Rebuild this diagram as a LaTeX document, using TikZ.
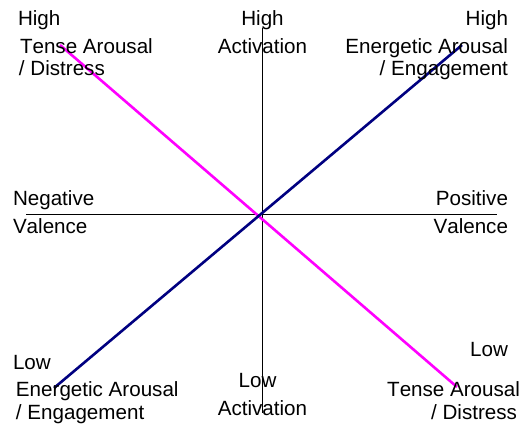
\documentclass[tikz,border=0pt]{standalone}
\usepackage{fontspec}
\setmainfont[Kerning=Off]{Liberation Sans}
\definecolor{navyline}{HTML}{000080}
\definecolor{magline}{HTML}{FF00FF}
\begin{document}
\begin{tikzpicture}[x=1pt,y=-1pt,
  lbl/.style={inner sep=0pt,outer sep=0pt,font=\fontsize{20.6}{22}\selectfont},
  lw/.style={lbl,anchor=base west},
  le/.style={lbl,anchor=base east},
  lc/.style={lbl,anchor=base},
  axis/.style={draw=black,line width=0.9pt},
  diag/.style={line width=2.6pt}]
\useasboundingbox (0,0) rectangle (525,427);
% axes
\coordinate (vtop) at (262,28);
\coordinate (vbot) at (262,413);
\coordinate (hleft) at (26,214);
\coordinate (hright) at (497,214);
\coordinate (mtop) at (60,45);
\coordinate (mbot) at (457,387);
\coordinate (btop) at (462,45);
\coordinate (bbot) at (54,388);
\draw[axis] (vtop) -- (vbot);
\draw[axis] (hleft) -- (hright);
\draw[diag,magline] (mtop) -- (mbot);
\draw[diag,navyline] (bbot) -- (btop);
% top labels
\node[lw] (hl) at (18,26) {High};
\node[lw] (tal1) at (20,54) {Tense Arousal};
\node[lw] (tal2) at (19,76) {/ Distress};
\node[lc] (hc) at (262.5,26) {High};
\node[lc] (act1) at (262.5,54) {Activation};
\node[le] (hr) at (508,26) {High};
\node[le] (ear1) at (508,54) {Energetic Arousal};
\node[le] (ear2) at (508,76) {/ Engagement};
% middle labels
\node[lw] (neg1) at (13,206) {Negative};
\node[lw] (neg2) at (13,234) {Valence};
\node[le] (pos1) at (508,206) {Positive};
\node[le] (pos2) at (508,234) {Valence};
% bottom labels
\node[lw] (ll) at (13,370) {Low};
\node[lw] (eal1) at (16,397) {Energetic Arousal};
\node[lw] (eal2) at (16,420) {/ Engagement};
\node[lc] (lc) at (257.5,388) {Low};
\node[lc] (act2) at (262.5,416) {Activation};
\node[le] (lr) at (508,357) {Low};
\node[le] (tar1) at (520,397) {Tense Arousal};
\node[le] (tar2) at (517,420) {/ Distress};
\end{tikzpicture}
\end{document}
